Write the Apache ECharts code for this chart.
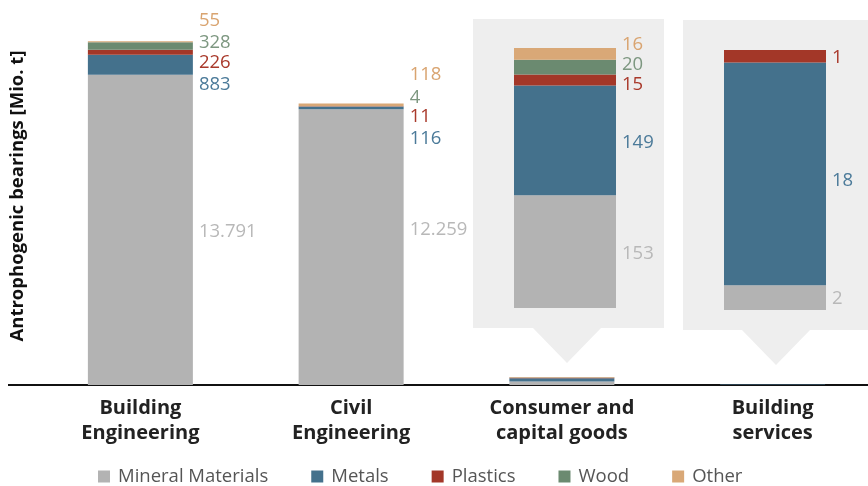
<!DOCTYPE html>
<html>
<head>
<meta charset="utf-8">
<script src="https://cdn.jsdelivr.net/npm/echarts@6/dist/echarts.min.js"></script>
<style>
  html, body { margin: 0; padding: 0; background: #fff; overflow: hidden; }
  #chart { width: 878px; height: 486px; }
</style>
</head>
<body>
<div id="chart"></div>
<script>
const categories = ['Building\nEngineering', 'Civil\nEngineering', 'Consumer and\ncapital goods', 'Building\nservices']
const mineral = [13791, 12259, 153, 2]
const metals = [883, 116, 149, 18]
const plastics = [226, 11, 15, 1]
const wood = [328, 4, 20, 0]
const other = [55, 118, 16, 0]
const materialNames = ['Mineral Materials', 'Metals', 'Plastics', 'Wood', 'Other']

// styling, kept apart from the values
const barColors = ['#b3b3b3', '#44718c', '#a33728', '#6b8a70', '#d9a877']
const labelColors = ['#b8b8b8', '#4b7a99', '#a9392b', '#7d9780', '#d9a470']
// vertical nudge of each value label (px), per material and category
const labelShift = [
  [2, -17, 2, 1],
  [20, 31, 2, 7],
  [10, 10, 5, 2],
  [-3, -9, -2, 0],
  [-21, -30, -9, 0],
]

const values = [mineral, metals, plastics, wood, other]
const FONT = 'Open Sans'

const fmt = (v) => String(v).replace(/\B(?=(\d{3})+(?!\d))/g, '.')

function makeSeries(m, idxList, axisIndex, barWidth) {
  return {
    name: materialNames[m],
    type: 'bar',
    stack: 'total' + axisIndex,
    xAxisIndex: axisIndex,
    yAxisIndex: axisIndex,
    barWidth: barWidth,
    itemStyle: { color: barColors[m] },
    emphasis: { disabled: true },
    label: {
      position: 'right',
      distance: 6,
      color: labelColors[m],
      fontFamily: FONT,
      fontSize: 18.5,
      formatter: (p) => fmt(p.value),
    },
    data: idxList.map((i) => ({
      value: values[m][i],
      label: {
        show: (axisIndex > 0 || i < 2) && values[m][i] > 0,
        offset: [0, labelShift[m][i]],
      },
    })),
  }
}

const total = (i) => values.reduce((s, arr) => s + arr[i], 0)

const series = []
for (let m = 0; m < 5; m++) {
  series.push(makeSeries(m, [0, 1, 2, 3], 0, 105))
  series.push(makeSeries(m, [2], 1, 102))
  series.push(makeSeries(m, [3], 2, 102))
}

const hiddenX = (data) => ({
  type: 'category',
  data: data,
  show: false,
})

const chart = echarts.init(document.getElementById('chart'))
chart.setOption({
  animation: false,
  textStyle: { fontFamily: FONT },
  graphic: [
    { type: 'rect', shape: { x: 473, y: 19, width: 191, height: 309 }, style: { fill: '#eeeeee' }, z: 0 },
    { type: 'polygon', shape: { points: [[532, 327], [602, 327], [567, 363]] }, style: { fill: '#eeeeee' }, z: 0 },
    { type: 'rect', shape: { x: 683, y: 20, width: 200, height: 310 }, style: { fill: '#eeeeee' }, z: 0 },
    { type: 'polygon', shape: { points: [[741, 329], [811, 329], [776, 365]] }, style: { fill: '#eeeeee' }, z: 0 },
    { type: 'line', shape: { x1: 8, y1: 385, x2: 40, y2: 385 }, style: { stroke: '#111', lineWidth: 2 }, z: 0 },
  ],
  legend: {
    data: materialNames,
    left: 93,
    top: 462,
    icon: 'rect',
    itemWidth: 12,
    itemHeight: 12,
    itemGap: 43,
    textStyle: { fontFamily: FONT, fontSize: 18.5, color: '#555', padding: [0, 0, 0, 3] },
  },
  grid: [
    { left: 34, width: 844, top: 7, bottom: 101 },
    { left: 514, width: 102, top: 48, height: 260 },
    { left: 724, width: 102, top: 50, height: 260 },
  ],
  xAxis: [
    {
      type: 'category',
      data: categories,
      gridIndex: 0,
      axisTick: { show: false },
      axisLine: { lineStyle: { color: '#111', width: 2 } },
      axisLabel: {
        margin: 11,
        fontFamily: FONT,
        fontSize: 20,
        fontWeight: 'bold',
        lineHeight: 25,
        color: '#222',
        interval: 0,
      },
    },
    Object.assign(hiddenX([categories[2]]), { gridIndex: 1 }),
    Object.assign(hiddenX([categories[3]]), { gridIndex: 2 }),
  ],
  yAxis: [
    {
      type: 'value',
      gridIndex: 0,
      min: 0,
      max: 16800,
      name: 'Antrophogenic bearings [Mio. t]',
      nameLocation: 'middle',
      nameGap: 8,
      nameTextStyle: { fontFamily: FONT, fontSize: 18.5, fontWeight: 'bold', color: '#111' },
      axisLine: { show: false },
      axisTick: { show: false },
      axisLabel: { show: false },
      splitLine: { show: false },
    },
    { type: 'value', gridIndex: 1, min: 0, max: total(2), show: false, splitLine: { show: false } },
    { type: 'value', gridIndex: 2, min: 0, max: total(3), show: false, splitLine: { show: false } },
  ],
  series: series,
})
</script>
</body>
</html>
